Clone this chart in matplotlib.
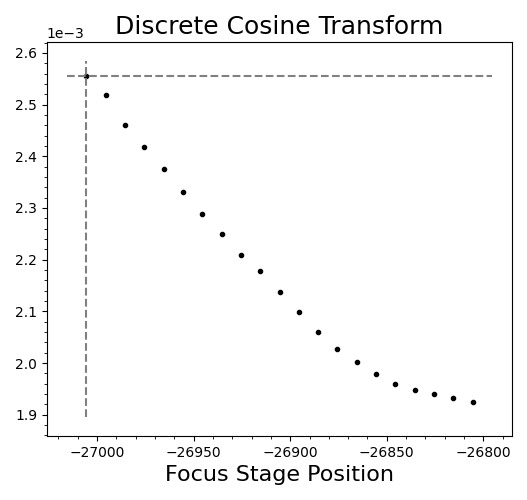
import numpy as np
import matplotlib.pyplot as plt
from matplotlib.ticker import AutoMinorLocator

position = np.arange(21) * 10 - 27005.5
dct = np.array([2.5555, 2.519, 2.461, 2.418, 2.376, 2.331, 2.289, 2.250, 2.209, 2.178,
                2.138, 2.099, 2.060, 2.027, 2.002, 1.979, 1.960, 1.948, 1.940, 1.933, 1.925]) * 1e-3

best = np.argmax(dct)

fig, ax = plt.subplots(figsize=(5.27, 5.0), dpi=100)
ax.plot(position, dct, 'k.', markersize=6)
ax.plot([position[0] - 10, position[-1] + 10], [dct[best]] * 2, '--', color='gray')
ax.plot([position[best]] * 2, [1.895e-3, 2.585e-3], '--', color='gray')
ax.set_xlim(-27026, -26785)
ax.set_ylim(1.859e-3, 2.621e-3)
ax.ticklabel_format(axis='y', style='sci', scilimits=(0, 0))
ax.xaxis.set_minor_locator(AutoMinorLocator(5))
ax.yaxis.set_minor_locator(AutoMinorLocator(5))
ax.set_title('Discrete Cosine Transform', fontsize=18)
ax.set_xlabel('Focus Stage Position', fontsize=16)
fig.subplots_adjust(left=0.089, right=0.972, top=0.916, bottom=0.128)
fig.savefig('out.png')
